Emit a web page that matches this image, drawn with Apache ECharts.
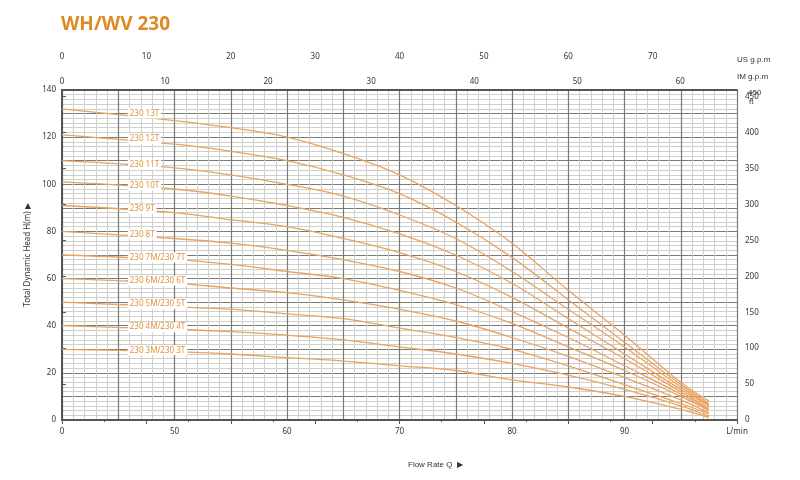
<!DOCTYPE html>
<html>
<head>
    <title>WH/WV 230</title>
    <meta charset="utf-8">
    <script src="https://cdn.jsdelivr.net/npm/echarts@6/dist/echarts.min.js"></script>
</head>
<body style="margin:0">
    <div id="main" style="width:800px;height:480px;"></div>
    <script>
        // flow in L/min (the 0 point is drawn at the broken-axis start, 40)
        const flow = [0, 50, 55, 60, 65, 70, 75, 80, 85, 90, 95, 97.5];
        const names = ['230 13T', '230 12T', '230 11T', '230 10T', '230 9T', '230 8T',
            '230 7M/230 7T', '230 6M/230 6T', '230 5M/230 5T', '230 4M/230 4T', '230 3M/230 3T'];
        const h13 = [132, 127, 124, 120, 113, 104, 91, 75, 55, 36, 16, 8];
        const h12 = [121, 117, 114, 110, 104, 96, 84, 69, 51, 33, 15, 7];
        const h11 = [110, 107, 104, 100, 95, 87, 77, 63, 47, 31, 14, 6.5];
        const h10 = [101, 98, 95, 91, 86, 79, 70, 58, 43, 28, 13, 6];
        const h9 = [91, 88, 85, 82, 77, 71, 63, 52, 39, 26, 12, 5];
        const h8 = [80, 77, 75, 72, 68, 63, 56, 46, 35, 23, 11, 4.5];
        const h7 = [70, 68, 66, 63, 60, 55, 49, 41, 31, 21, 10, 4];
        const h6 = [60, 58, 56, 54, 51, 47, 42, 35, 27, 18, 8.5, 3];
        const h5 = [50, 48, 47, 45, 43, 39, 35, 30, 23, 15, 7, 2.5];
        const h4 = [40, 38.5, 37.5, 36, 34, 31, 28, 24, 19, 13, 6, 1.5];
        const h3 = [30, 29, 28, 26.5, 25, 23, 21, 17, 14, 10, 4.5, 1];
        const heads = [h13, h12, h11, h10, h9, h8, h7, h6, h5, h4, h3];

        const orange = '#e3913a';
        const txt = '#333';
        const series = heads.map((h, i) => ({
            type: 'line', name: names[i], smooth: 0.35, showSymbol: false,
            xAxisIndex: 0, yAxisIndex: 0,
            lineStyle: { color: '#eaa35e', width: 1.3 },
            data: h.map((v, j) => [flow[j] === 0 ? 40 : flow[j], v]),
            markPoint: {
                symbol: 'rect', symbolSize: 1, silent: true,
                data: [{ coord: [45.8, h[0] * 0.985] }],
                label: {
                    show: true, formatter: names[i], color: orange, fontSize: 8,
                    backgroundColor: '#fff', padding: [1, 2], position: 'right', distance: 0
                }
            }
        }));

        const chart = echarts.init(document.getElementById('main'));
        chart.setOption({
            animation: false,
            textStyle: { fontFamily: 'Noto Sans' },
            title: { text: 'WH/WV 230', left: 56, top: 10, textStyle: { color: '#dc8a22', fontSize: 19, fontWeight: 'bold' } },
            grid: { left: 62, right: 63, top: 90, bottom: 60 },
            xAxis: [
                {
                    type: 'value', min: 40, max: 100, interval: 5, position: 'bottom',
                    axisLine: { lineStyle: { color: '#555', width: 2 } },
                    axisTick: { show: false },
                    axisLabel: { color: txt, fontSize: 8, formatter: v => v === 40 ? '0' : v === 100 ? 'L/min' : (v % 10 ? '' : v) },
                    splitLine: { lineStyle: { color: '#7a7a7a', width: 1.2 } },
                    minorTick: { show: false, splitNumber: 5 },
                    minorSplitLine: { show: true, lineStyle: { color: '#cfcfcf' } }
                },
                {
                    type: 'value', min: 0, max: 80, interval: 10, position: 'top', offset: 21,
                    axisLine: { show: true, lineStyle: { color: '#555' } },
                    axisTick: { inside: true, length: 4 },
                    minorTick: { show: true, splitNumber: 2, length: 2 },
                    axisLabel: { color: txt, fontSize: 8, formatter: v => v === 80 ? '' : v },
                    splitLine: { show: false }
                },
                {
                    type: 'value', min: 0, max: 65.5, interval: 10, position: 'top',
                    axisLine: { show: true, lineStyle: { color: '#555', width: 2 } },
                    axisTick: { show: false },
                    axisLabel: { color: txt, fontSize: 8, margin: 4, formatter: v => v > 65 ? '' : v },
                    splitLine: { show: false }
                }
            ],
            yAxis: [
                {
                    type: 'value', min: 0, max: 140, interval: 10,
                    name: 'Total Dynamic Head H(m) ▶', nameLocation: 'middle', nameGap: 14,
                    nameTextStyle: { color: txt, fontSize: 8 },
                    axisLine: { show: true, lineStyle: { color: '#555', width: 2 } },
                    axisTick: { show: false },
                    axisLabel: { color: txt, fontSize: 8, margin: 6, formatter: v => v % 20 ? '' : v },
                    splitLine: { lineStyle: { color: '#7a7a7a', width: 1.2 } },
                    minorTick: { show: false, splitNumber: 5 },
                    minorSplitLine: { show: true, lineStyle: { color: '#cfcfcf' } }
                },
                {
                    type: 'value', min: 0, max: 459.3, interval: 50, position: 'right',
                    axisLine: { show: true, lineStyle: { color: '#555' } },
                    axisTick: { show: true, length: 4 },
                    axisLabel: { color: txt, fontSize: 8, margin: 8, formatter: v => v > 455 ? '' : v },
                    splitLine: { show: false }
                }
            ],
            graphic: [
                { type: 'text', left: 748, top: 89, style: { text: '450', fill: txt, fontSize: 8 } },
                { type: 'text', left: 749, top: 98, style: { text: 'ft', fill: txt, fontSize: 8 } },
                { type: 'text', left: 737, top: 56, style: { text: 'US g.p.m', fill: txt, fontSize: 8 } },
                { type: 'text', left: 737, top: 73, style: { text: 'IM g.p.m', fill: txt, fontSize: 8 } },
                { type: 'text', left: 408, top: 461, style: { text: 'Flow Rate Q  ▶', fill: txt, fontSize: 8 } }
            ],
            series: series
        });
    </script>
</body>
</html>
